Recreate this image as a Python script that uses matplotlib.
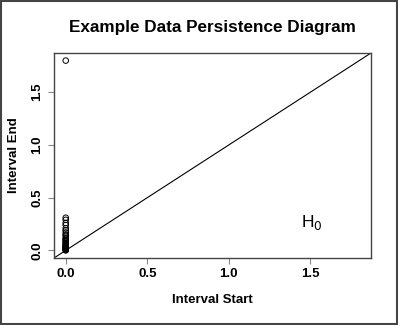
import numpy as np
import matplotlib
matplotlib.use("Agg")
from matplotlib import pyplot as plt
from matplotlib.patches import Rectangle

plt.rcParams['font.family'] = ['Liberation Sans', 'DejaVu Sans']

# persistence diagram points (H0): birth, death
birth = [0.0] * 28
death = [1.80, 0.31, 0.29, 0.26, 0.24, 0.21, 0.19, 0.17, 0.15, 0.14,
         0.12, 0.11, 0.10, 0.09, 0.08, 0.07, 0.06, 0.05, 0.045, 0.04,
         0.035, 0.03, 0.025, 0.02, 0.015, 0.01, 0.005, 0.0]
xticks = [0.0, 0.5, 1.0, 1.5]
yticks = [0.0, 0.5, 1.0, 1.5]

fig = plt.figure(figsize=(3.98, 3.25), dpi=100)
ax = fig.add_axes([54/398, 67/325, 317/398, 205/325])

ax.scatter(birth, death, s=16, facecolors='none', edgecolors='black', linewidths=0.7, zorder=3)
mx = max(death)
lo, hi = -0.04 * mx, mx * 1.04
ax.plot([lo, hi], [lo, hi], color='black', lw=0.8)
ax.set_xlim(lo, hi)
ax.set_ylim(lo, hi)

ax.set_xticks(xticks)
ax.set_xticklabels(["%.1f" % t for t in xticks], fontweight='bold', fontsize=9.5)
ax.set_yticks(yticks)
ax.set_yticklabels(["%.1f" % t for t in yticks], fontweight='bold', fontsize=9.5,
                   rotation=90, va='center')
ax.tick_params(length=4.5, width=0.8, color='#888888', pad=3)
for s in ax.spines.values():
    s.set_color('#444444')
    s.set_linewidth(1.0)

ax.set_xlabel("Interval Start", fontweight='bold', fontsize=9.5, labelpad=10)
ax.set_ylabel("Interval End", fontweight='bold', fontsize=9.5, labelpad=8)
ax.set_title("Example Data Persistence Diagram", fontweight='bold', fontsize=12.3, pad=15)
ax.text(1.51, 0.265, r"H$_0$", fontsize=12.5, ha='center', va='center')

fig.patches.append(Rectangle((0.002, 0.003), 0.995, 0.994, transform=fig.transFigure,
                             fill=False, edgecolor='#444444', lw=1.5))

fig.savefig("out.png", dpi=100)
